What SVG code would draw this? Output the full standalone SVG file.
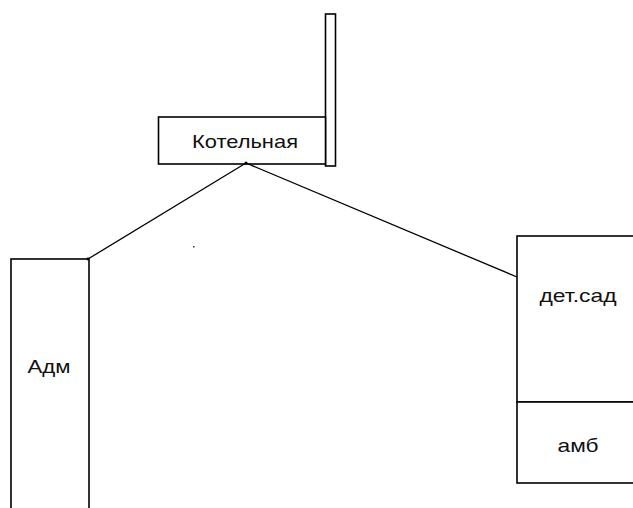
<svg xmlns="http://www.w3.org/2000/svg" width="633" height="508" viewBox="0 0 633 508">
<style>
.box{fill:#fff;stroke:#000;stroke-width:1.6}
.lbl{font-family:"Liberation Sans",Arial,sans-serif;font-size:19px;fill:#111;text-anchor:middle}
.con{stroke:#000;stroke-width:1.3;fill:none}
</style>
<rect width="633" height="508" fill="#fff"/>
<g id="chimney"><rect class="box" x="325.5" y="14" width="10" height="152"/></g>
<g id="kotelnaya"><rect class="box" x="158.5" y="117" width="167" height="47"/><text class="lbl" x="245" y="148" textLength="106" lengthAdjust="spacingAndGlyphs">Котельная</text></g>
<g id="adm"><rect class="box" x="11" y="259" width="78" height="260"/><text class="lbl" x="49" y="373" textLength="43" lengthAdjust="spacingAndGlyphs">Адм</text></g>
<g id="detsad"><rect class="box" x="517" y="236" width="130" height="166"/><text class="lbl" x="578" y="302" textLength="77" lengthAdjust="spacingAndGlyphs">дет.сад</text></g>
<g id="amb"><rect class="box" x="517" y="402" width="130" height="81"/><text class="lbl" x="578" y="452" textLength="41" lengthAdjust="spacingAndGlyphs">амб</text></g>
<g id="connectors">
<line class="con" x1="246" y1="163" x2="88" y2="259"/>
<line class="con" x1="246" y1="163" x2="517" y2="277"/>
<circle cx="246" cy="163" r="1.6" fill="#000"/>
<circle cx="88" cy="259" r="1.4" fill="#000"/>
</g>
<rect x="193" y="246" width="1.5" height="1.5" fill="#333"/>
</svg>
